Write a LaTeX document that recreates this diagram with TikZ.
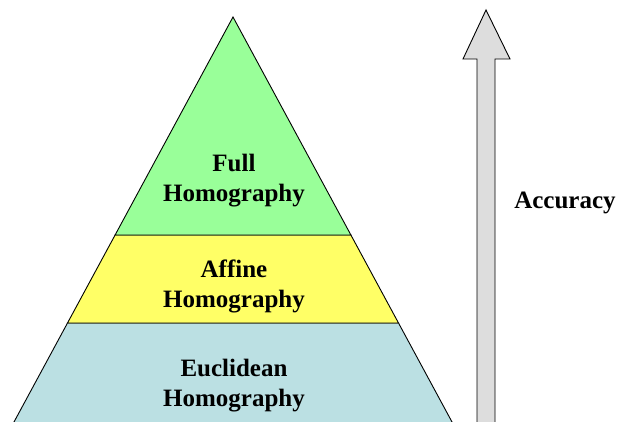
\documentclass[tikz,border=0pt]{standalone}
\usepackage{fontspec}
\setmainfont{Liberation Serif}
\usepackage{xcolor}
\definecolor{topgreen}{HTML}{99FF99}
\definecolor{midyellow}{HTML}{FFFF66}
\definecolor{basecyan}{HTML}{BBE0E3}
\definecolor{arrowgray}{HTML}{DDDDDD}

\begin{document}
\begin{tikzpicture}[
  x=1pt, y=-1pt,
  layer/.style={draw, line width=0.9pt, line join=miter},
  label/.style={font=\fontsize{25}{30.5}\selectfont\bfseries, align=center, inner sep=0pt}
]
  \useasboundingbox (0,0) rectangle (623,422);

  % pyramid layers
  \coordinate (apex) at (233,17);
  \coordinate (gl) at (115.1,235); \coordinate (gr) at (350.9,235);
  \coordinate (yl) at (67.5,323);  \coordinate (yr) at (398.5,323);
  \coordinate (bl) at (12.9,424);  \coordinate (br) at (453.1,424);
  \draw[layer, fill=basecyan] (yl) -- (yr) -- (br) -- (bl) -- cycle;
  \draw[layer, fill=midyellow] (gl) -- (gr) -- (yr) -- (yl) -- cycle;
  \draw[layer, fill=topgreen] (apex) -- (gr) -- (gl) -- cycle;

  \node[label] (full) at (234,180.5) {Full\\Homography};
  \node[label] (affine) at (234,286.5) {Affine\\Homography};
  \node[label] (euclid) at (234,385.5) {Euclidean\\Homography};

  % accuracy arrow
  \draw[layer, fill=arrowgray] (477,426) -- (477,59) -- (463,59) -- (486,10)
    -- (510,59) -- (495,59) -- (495,426) -- cycle;
  \node[label] (accuracy) at (565,202.5) {Accuracy};
\end{tikzpicture}
\end{document}
